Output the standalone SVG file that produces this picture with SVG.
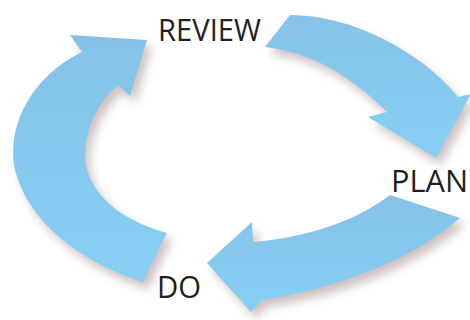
<svg xmlns="http://www.w3.org/2000/svg" width="470" height="320" viewBox="0 0 470 320">
<defs>
<style>
.arrow{fill:url(#blue)}
.shadow{fill:#a89090;opacity:0.55}
.label{font-family:"Open Sans","Liberation Sans",sans-serif;font-size:31px;fill:#231f20}
</style>
<linearGradient id="blue" x1="0" y1="0" x2="0" y2="1">
<stop offset="0" stop-color="#86c2e8"/>
<stop offset="1" stop-color="#86cff3"/>
</linearGradient>
<filter id="soft" x="-20%" y="-20%" width="140%" height="140%">
<feGaussianBlur stdDeviation="5"/>
</filter>
<path id="pLeft" d="M143,282 C80,262 25,220 14,165 C8,120 35,75 82,52 L70,35 L147,40 L130,96 L118,85 C95,105 82,135 86,165 C92,195 120,220 167,233 Z"/>
<path id="pTop" d="M290,15 C350,15 420,50 458,97 L471,94 L436,158 L368,117 L387,112 C350,75 310,52 265,47 Z"/>
<path id="pBottom" d="M390,195 C350,225 300,238 253,242 L252,222 L207,263 L251,312 L262,300 C330,290 410,262 460,218 Z"/>
</defs>
<rect width="470" height="320" fill="#ffffff"/>
<g id="connectors">
<g class="shadow" filter="url(#soft)" transform="translate(5,7)">
<use href="#pLeft"/>
<use href="#pTop"/>
<use href="#pBottom"/>
</g>
<use id="arrow-do-review" class="arrow" href="#pLeft"/>
<use id="arrow-review-plan" class="arrow" href="#pTop"/>
<use id="arrow-plan-do" class="arrow" href="#pBottom"/>
</g>
<g id="review"><text class="label" x="158" y="41" textLength="103" lengthAdjust="spacingAndGlyphs">REVIEW</text></g>
<g id="plan"><text class="label" x="391" y="192" textLength="77" lengthAdjust="spacingAndGlyphs">PLAN</text></g>
<g id="do"><text class="label" x="157" y="298" textLength="44" lengthAdjust="spacingAndGlyphs">DO</text></g>
</svg>
